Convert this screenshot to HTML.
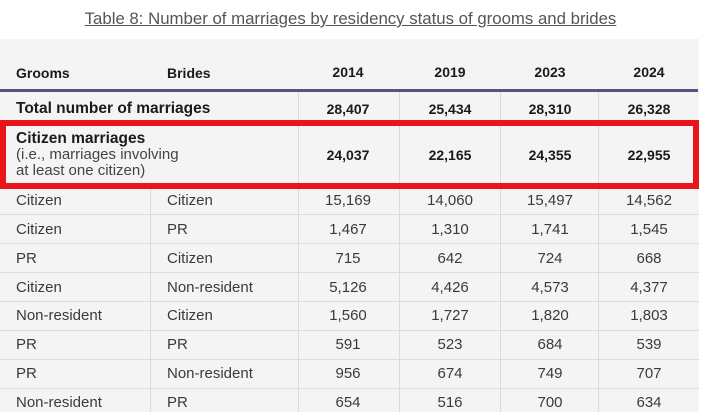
<!DOCTYPE html>
<html><head><style>
body{margin:0;width:701px;height:412px;overflow:hidden;background:#fff;font-family:"Liberation Sans",sans-serif;position:relative}
.a{position:absolute}
.t{white-space:nowrap;color:#3a3a3a;font-size:15px}
.b{font-weight:bold;color:#1a1a1a;font-size:14px}
.c{text-align:center;width:100px}
.h{height:1px;background:#dcdcdc;left:0;width:699px}
.v{width:1px;background:#dadada}
</style></head><body>
<div class="a t" style="left:0;width:701px;text-align:center;top:9px;font-size:16.8px;color:#555;text-decoration:underline">Table 8: Number of marriages by residency status of grooms and brides</div>
<div class="a" style="left:0;top:39px;width:699px;height:373px;background:#f4f4f4"></div>
<div class="a t b" style="left:16px;top:65px">Grooms</div>
<div class="a t b" style="left:167px;top:65px">Brides</div>
<div class="a t b c" style="left:298px;top:64px">2014</div>
<div class="a t b c" style="left:400px;top:64px">2019</div>
<div class="a t b c" style="left:500px;top:64px">2023</div>
<div class="a t b c" style="left:599px;top:64px">2024</div>
<div class="a" style="left:0;top:89px;width:698px;height:3px;background:#5b5080"></div>
<div class="a t b" style="left:16px;top:100px;font-size:15.5px">Total number of marriages</div>
<div class="a t b c" style="left:298px;top:101px">28,407</div>
<div class="a t b c" style="left:400px;top:101px">25,434</div>
<div class="a t b c" style="left:500px;top:101px">28,310</div>
<div class="a t b c" style="left:599px;top:101px">26,328</div>
<div class="a v" style="left:298px;top:92px;height:320px"></div>
<div class="a v" style="left:399px;top:92px;height:320px"></div>
<div class="a v" style="left:500px;top:92px;height:320px"></div>
<div class="a v" style="left:598px;top:92px;height:320px"></div>
<div class="a v" style="left:150px;top:188px;height:224px"></div>
<div class="a t b" style="left:16px;top:130px;font-size:15.5px">Citizen marriages</div>
<div class="a t" style="left:16px;top:147px;line-height:16px;font-size:15px;color:#444">(i.e., marriages involving<br>at least one citizen)</div>
<div class="a t b c" style="left:298px;top:147px">24,037</div>
<div class="a t b c" style="left:400px;top:147px">22,165</div>
<div class="a t b c" style="left:500px;top:147px">24,355</div>
<div class="a t b c" style="left:599px;top:147px">22,955</div>
<div class="a" style="left:0;top:120px;width:687px;height:57px;border:6px solid #e8161a"></div>
<div class="a h" style="top:214px"></div><div class="a h" style="top:243px"></div><div class="a h" style="top:272px"></div><div class="a h" style="top:301px"></div><div class="a h" style="top:330px"></div><div class="a h" style="top:359px"></div><div class="a h" style="top:388px"></div>
<div class="a t" style="left:16px;top:192px">Citizen</div><div class="a t" style="left:167px;top:192px">Citizen</div>
<div class="a t c" style="left:298px;top:192px">15,169</div><div class="a t c" style="left:400px;top:192px">14,060</div><div class="a t c" style="left:500px;top:192px">15,497</div><div class="a t c" style="left:599px;top:192px">14,562</div>
<div class="a t" style="left:16px;top:221px">Citizen</div><div class="a t" style="left:167px;top:221px">PR</div>
<div class="a t c" style="left:298px;top:221px">1,467</div><div class="a t c" style="left:400px;top:221px">1,310</div><div class="a t c" style="left:500px;top:221px">1,741</div><div class="a t c" style="left:599px;top:221px">1,545</div>
<div class="a t" style="left:16px;top:250px">PR</div><div class="a t" style="left:167px;top:250px">Citizen</div>
<div class="a t c" style="left:298px;top:250px">715</div><div class="a t c" style="left:400px;top:250px">642</div><div class="a t c" style="left:500px;top:250px">724</div><div class="a t c" style="left:599px;top:250px">668</div>
<div class="a t" style="left:16px;top:279px">Citizen</div><div class="a t" style="left:167px;top:279px">Non-resident</div>
<div class="a t c" style="left:298px;top:279px">5,126</div><div class="a t c" style="left:400px;top:279px">4,426</div><div class="a t c" style="left:500px;top:279px">4,573</div><div class="a t c" style="left:599px;top:279px">4,377</div>
<div class="a t" style="left:16px;top:307px">Non-resident</div><div class="a t" style="left:167px;top:307px">Citizen</div>
<div class="a t c" style="left:298px;top:307px">1,560</div><div class="a t c" style="left:400px;top:307px">1,727</div><div class="a t c" style="left:500px;top:307px">1,820</div><div class="a t c" style="left:599px;top:307px">1,803</div>
<div class="a t" style="left:16px;top:336px">PR</div><div class="a t" style="left:167px;top:336px">PR</div>
<div class="a t c" style="left:298px;top:336px">591</div><div class="a t c" style="left:400px;top:336px">523</div><div class="a t c" style="left:500px;top:336px">684</div><div class="a t c" style="left:599px;top:336px">539</div>
<div class="a t" style="left:16px;top:365px">PR</div><div class="a t" style="left:167px;top:365px">Non-resident</div>
<div class="a t c" style="left:298px;top:365px">956</div><div class="a t c" style="left:400px;top:365px">674</div><div class="a t c" style="left:500px;top:365px">749</div><div class="a t c" style="left:599px;top:365px">707</div>
<div class="a t" style="left:16px;top:394px">Non-resident</div><div class="a t" style="left:167px;top:394px">PR</div>
<div class="a t c" style="left:298px;top:394px">654</div><div class="a t c" style="left:400px;top:394px">516</div><div class="a t c" style="left:500px;top:394px">700</div><div class="a t c" style="left:599px;top:394px">634</div>
</body></html>
